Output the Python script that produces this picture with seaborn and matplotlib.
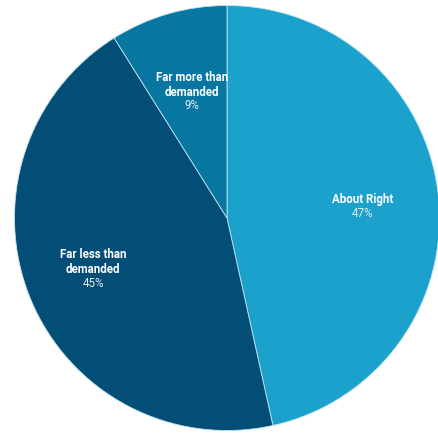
import numpy as np
import matplotlib
matplotlib.use("Agg")
import matplotlib.pyplot as plt
import seaborn as sns

# Share of responses per category (percent)
categories = ["About Right", "Far less than\ndemanded", "Far more than\ndemanded"]
values = [47, 45, 9]
colors = ["#1ba2cc", "#034e77", "#0777a1"]

sns.set_theme(style="white")
plt.rcParams["font.family"] = ["Roboto", "DejaVu Sans"]

fig = plt.figure(figsize=(4.38, 4.34), dpi=100)
W, H = 438, 434
cx, cy, r = 227, 216, 212.5  # pixel centre (from bottom) and radius
ax = fig.add_axes([(cx - r) / W, (cy - r) / H, 2 * r / W, 2 * r / H])

wedges, _ = ax.pie(
    values,
    colors=colors,
    startangle=90,
    counterclock=False,
    radius=1,
    wedgeprops=dict(edgecolor="#bfe3f1", linewidth=0.6),
)
ax.set_xlim(-1, 1)
ax.set_ylim(-1, 1)
ax.set_aspect("equal")
ax.axis("off")

label_r = [0.64, 0.68, 0.60]
for w, name, v, lr in zip(wedges, categories, values, label_r):
    ang = np.deg2rad((w.theta1 + w.theta2) / 2)
    x, y = lr * np.cos(ang), lr * np.sin(ang)
    ax.annotate(name, (x, y), xytext=(0, -2.2), textcoords="offset points",
                ha="center", va="bottom", color="white",
                fontsize=8.3, fontweight="bold", linespacing=1.15)
    ax.annotate(f"{v}%", (x, y), xytext=(0, -2.7), textcoords="offset points",
                ha="center", va="top", color="#e3ecf1", fontsize=8.3)

fig.savefig("out.png", dpi=100)
